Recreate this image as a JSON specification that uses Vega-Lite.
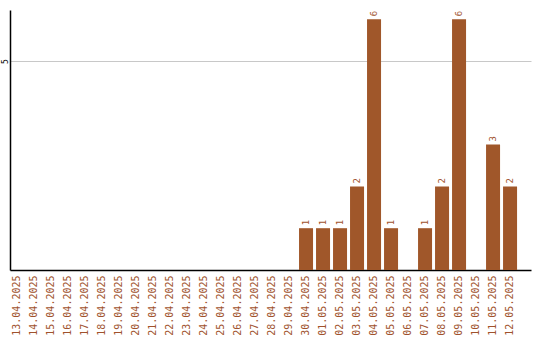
{
  "$schema": "https://vega.github.io/schema/vega-lite/v6.json",
  "autosize": {"type": "none"},
  "width": 521,
  "height": 260,
  "padding": {"left": 10, "top": 10, "right": 9, "bottom": 70},
  "background": "white",
  "config": {"view": {"stroke": null}},
  "data": {"values": [
    {"date": "13.04.2025", "v": 0},
    {"date": "14.04.2025", "v": 0},
    {"date": "15.04.2025", "v": 0},
    {"date": "16.04.2025", "v": 0},
    {"date": "17.04.2025", "v": 0},
    {"date": "18.04.2025", "v": 0},
    {"date": "19.04.2025", "v": 0},
    {"date": "20.04.2025", "v": 0},
    {"date": "21.04.2025", "v": 0},
    {"date": "22.04.2025", "v": 0},
    {"date": "23.04.2025", "v": 0},
    {"date": "24.04.2025", "v": 0},
    {"date": "25.04.2025", "v": 0},
    {"date": "26.04.2025", "v": 0},
    {"date": "27.04.2025", "v": 0},
    {"date": "28.04.2025", "v": 0},
    {"date": "29.04.2025", "v": 0},
    {"date": "30.04.2025", "v": 1},
    {"date": "01.05.2025", "v": 1},
    {"date": "02.05.2025", "v": 1},
    {"date": "03.05.2025", "v": 2},
    {"date": "04.05.2025", "v": 6},
    {"date": "05.05.2025", "v": 1},
    {"date": "06.05.2025", "v": 0},
    {"date": "07.05.2025", "v": 1},
    {"date": "08.05.2025", "v": 2},
    {"date": "09.05.2025", "v": 6},
    {"date": "10.05.2025", "v": 0},
    {"date": "11.05.2025", "v": 3},
    {"date": "12.05.2025", "v": 2}
  ]},
  "encoding": {
    "x": {
      "field": "date", "type": "ordinal", "sort": null,
      "scale": {"paddingInner": 0.176, "paddingOuter": 0.41, "align": 0},
      "axis": {
        "title": null, "labelAngle": -90, "labelAlign": "right", "labelBaseline": "middle",
        "labelPadding": 5, "ticks": false, "domainColor": "#000000", "domainWidth": 1.5,
        "labelColor": "#a0522d", "labelFont": "DejaVu Sans Mono", "labelFontSize": 10,
        "grid": false
      }
    },
    "y": {
      "field": "v", "type": "quantitative",
      "scale": {"domain": [0, 6.22], "nice": false},
      "axis": {
        "title": null, "values": [5], "grid": true, "gridColor": "#c8c8c8",
        "ticks": false, "domainColor": "#000000", "domainWidth": 1.5,
        "labelAngle": -90, "labelAlign": "center", "labelBaseline": "alphabetic",
        "labelPadding": 3, "labelFont": "DejaVu Sans Mono", "labelFontSize": 8,
        "labelColor": "#000000"
      }
    }
  },
  "layer": [
    {"mark": {"type": "bar", "color": "#a0572a"}},
    {
      "transform": [{"filter": "datum.v > 0"}],
      "mark": {"type": "text", "angle": 270, "align": "left", "baseline": "middle", "dx": 3,
               "font": "DejaVu Sans Mono", "fontSize": 9, "color": "#a0522d"},
      "encoding": {"text": {"field": "v", "type": "quantitative"}}
    }
  ]
}
